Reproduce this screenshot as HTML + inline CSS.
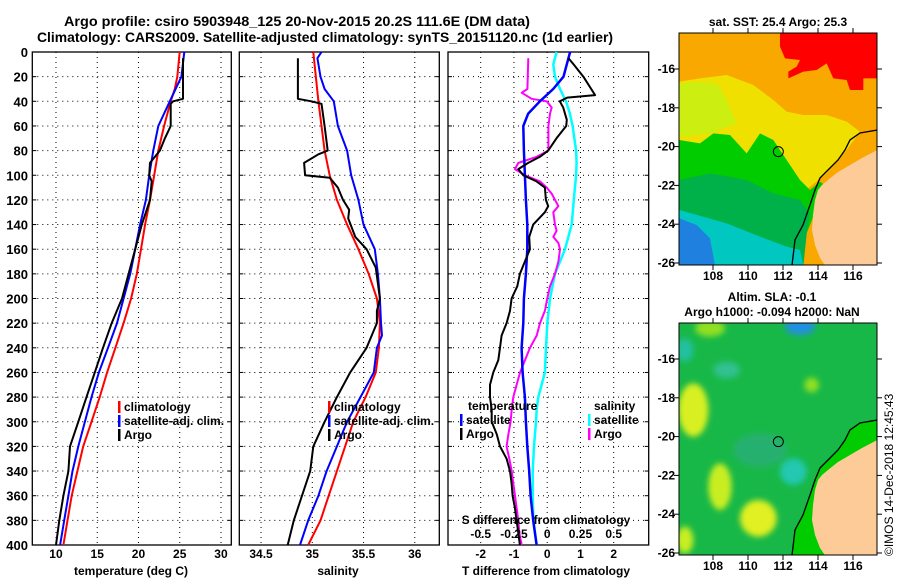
<!DOCTYPE html>
<html><head><meta charset="utf-8">
<style>
html,body{margin:0;padding:0;background:#fff;}
svg{display:block;font-family:"Liberation Sans",Arial,sans-serif;font-weight:bold;}
</style></head>
<body>
<svg id="fig" width="900" height="580" viewBox="0 0 900 580" xmlns="http://www.w3.org/2000/svg">
<defs>
<filter id="blur8" x="-50%" y="-50%" width="200%" height="200%"><feGaussianBlur stdDeviation="9"/></filter>
<clipPath id="clipTop"><rect x="679" y="33" width="198" height="232"/></clipPath>
<clipPath id="clipBot"><rect x="679" y="323" width="198" height="232"/></clipPath>
</defs>
<text x="64" y="26" font-size="14" textLength="466" lengthAdjust="spacingAndGlyphs">Argo profile: csiro 5903948_125 20-Nov-2015 20.2S 111.6E (DM data)</text>
<text x="37" y="42" font-size="14" textLength="576" lengthAdjust="spacingAndGlyphs">Climatology: CARS2009. Satellite-adjusted climatology: synTS_20151120.nc (1d earlier)</text>

<!-- top map -->
<g clip-path="url(#clipTop)">
 <g transform="translate(660,0) scale(0.33333)">
  <rect x="58" y="100" width="594" height="696" fill="#f9a800"/>
  <polygon fill="#ff0000" points="360,100 652,100 652,235 610,235 610,270 570,270 560,240 520,235 500,190 470,210 430,215 385,235 385,215 410,200 420,180 375,175 360,140"/>
  <polygon fill="#f0e000" points="58,245 120,235 200,225 280,255 340,300 380,335 430,345 500,345 560,365 600,395 560,450 500,520 400,600 58,600"/>
  <polygon fill="#ccee10" points="58,250 110,245 170,250 200,300 230,370 150,400 58,410"/>
  <polygon fill="#00cc00" points="58,420 120,430 160,400 210,405 260,460 300,400 340,420 380,480 420,540 450,570 480,545 500,560 475,600 460,650 440,700 430,796 58,796"/>
  <polygon fill="#00b048" points="58,540 150,520 260,540 340,580 420,600 450,640 440,700 430,796 58,796"/>
  <polygon fill="#00c8c0" points="58,630 200,670 300,710 380,740 420,750 430,796 58,796"/>
  <polygon fill="#2080e0" points="58,655 110,675 150,715 165,796 58,796"/>
  <polygon fill="#fccb98" points="652,450 606,474 570,495 534,516 504,540 486,555 474,570 465,600 459,645 456,690 465,735 480,774 495,796 652,796"/>
  <polyline fill="none" stroke="#000" stroke-width="4" points="652,390 600,399 570,420 555,450 534,480 510,504 480,534 465,570 450,615 429,675 405,720 396,796"/>
  <circle cx="355" cy="455" r="15" fill="none" stroke="#000" stroke-width="3"/>
 </g>
</g>
<rect x="679" y="33" width="198" height="232" fill="none" stroke="#000"/>
<text x="778" y="26" font-size="12" text-anchor="middle">sat. SST: 25.4 Argo: 25.3</text>

<!-- bottom map -->
<g clip-path="url(#clipBot)">
 <rect x="679" y="323" width="198" height="232" fill="#18b848"/>
 <g transform="translate(660,290) scale(0.33333)">
  <g filter="url(#blur8)">
   <ellipse cx="100" cy="360" rx="45" ry="80" fill="#d8f020"/>
   <ellipse cx="180" cy="590" rx="35" ry="70" fill="#c8ee20"/>
   <ellipse cx="295" cy="685" rx="55" ry="55" fill="#e0f020"/>
   <ellipse cx="75" cy="750" rx="25" ry="40" fill="#c8ee20"/>
   <ellipse cx="150" cy="115" rx="45" ry="25" fill="#90e020"/>
   <ellipse cx="455" cy="285" rx="22" ry="22" fill="#90e020"/>
   <ellipse cx="75" cy="180" rx="25" ry="35" fill="#20c0a0"/>
   <ellipse cx="200" cy="240" rx="40" ry="25" fill="#30c090"/>
   <ellipse cx="400" cy="545" rx="40" ry="40" fill="#20c8b0"/>
   <ellipse cx="420" cy="110" rx="45" ry="25" fill="#2090e0"/>
   <ellipse cx="300" cy="480" rx="80" ry="50" fill="#28b070"/>
  </g>
  <polygon fill="#00cc00" points="652,390 600,399 570,420 555,450 534,480 510,504 480,534 465,570 450,615 429,675 405,720 396,796 652,796"/>
  <polygon fill="#fccb98" points="652,450 606,474 570,495 534,516 504,540 486,555 474,570 465,600 459,645 456,690 465,735 480,774 495,796 652,796"/>
  <polyline fill="none" stroke="#000" stroke-width="4" points="652,390 600,399 570,420 555,450 534,480 510,504 480,534 465,570 450,615 429,675 405,720 396,796"/>
  <circle cx="355" cy="455" r="15" fill="none" stroke="#000" stroke-width="3"/>
 </g>
</g>
<rect x="679" y="323" width="198" height="232" fill="none" stroke="#000"/>
<text x="772" y="301" font-size="12" text-anchor="middle">Altim. SLA: -0.1</text>
<text x="772" y="316" font-size="12" text-anchor="middle">Argo h1000: -0.094 h2000: NaN</text>
<text transform="translate(893,556) rotate(-90)" font-size="12" font-weight="normal">©IMOS 14-Dec-2018 12:45:43</text>

<g id="panels"></g>
</svg>
<script>
// ---- data ----
const tClimDepth = [0,20,30,40,60,80,100,120,140,160,180,200,220,240,260,280,300,320,340,360,380,400];
const tClimVal   = [25.0,24.7,24.4,23.9,23.1,22.4,21.9,21.4,20.8,20.3,19.8,19.1,18.2,17.2,16.2,15.3,14.3,13.3,12.6,11.9,11.4,10.9];
const tSatDepth  = [0,20,40,60,80,100,120,140,160,180,200,220,240,260,280,300,320,340,360,380,400];
const tSatVal    = [25.55,25.2,23.8,22.4,21.8,21.3,20.9,20.2,19.6,19.0,18.2,17.4,16.3,15.2,14.3,13.5,12.7,12.0,11.5,11.0,10.5];
const tArgoDepth = [5,38,40,42,60,70,80,90,100,105,120,140,160,180,200,220,240,260,280,300,320,340,360,380,400];
const tArgoVal   = [25.4,25.4,24.2,23.9,23.9,23.2,22.6,21.4,21.3,21.6,21.4,20.4,19.6,18.8,18.0,16.75,15.7,14.7,13.7,12.7,11.7,11.5,10.9,10.4,10.0];

const sClimDepth = [0,40,80,100,120,140,160,180,200,220,240,260,280,300,320,340,360,380,400];
const sClimVal   = [35.01,35.06,35.12,35.17,35.24,35.34,35.45,35.55,35.63,35.66,35.65,35.62,35.52,35.40,35.32,35.24,35.16,35.08,34.96];
const sSatDepth  = [0,5,20,30,40,60,80,100,120,140,160,180,200,220,230,240,260,280,300,320,340,360,380,400];
const sSatVal    = [35.09,35.05,35.08,35.12,35.21,35.25,35.34,35.38,35.45,35.50,35.61,35.64,35.66,35.67,35.68,35.63,35.60,35.47,35.34,35.24,35.14,35.06,34.96,34.88];
const sArgoDepth = [5,38,40,42,60,80,83,90,100,102,110,120,128,135,150,160,175,200,210,220,240,260,280,300,320,340,360,380,400];
const sArgoVal   = [34.86,34.86,34.99,35.09,35.12,35.15,35.06,34.92,34.93,35.17,35.25,35.30,35.36,35.35,35.42,35.53,35.62,35.66,35.63,35.63,35.53,35.37,35.24,35.12,35.01,34.98,34.90,34.82,34.76];

const dTSatDepth = [0,10,20,30,40,50,60,80,100,120,140,160,180,200,220,240,260,280,300,320,340,360,380,400];
const dTSatVal   = [0.69,0.59,0.49,0.18,-0.22,-0.57,-0.72,-0.70,-0.67,-0.64,-0.60,-0.60,-0.64,-0.70,-0.72,-0.77,-0.74,-0.67,-0.64,-0.60,-0.54,-0.50,-0.42,-0.32];
const dTArgoDepth = [5,10,20,35,37,40,45,55,60,70,80,85,90,95,100,105,110,120,125,130,140,150,160,170,180,190,200,210,220,230,240,250,260,270,280,290,300,310,320,330,340,350,360,370,380,390,400];
const dTArgoVal   = [0.64,0.79,1.09,1.44,0.6,0.38,0.48,0.59,0.57,0.28,0.03,-0.22,-0.57,-0.87,-0.72,-0.32,-0.07,-0.04,0.03,-0.07,-0.42,-0.54,-0.52,-0.67,-0.82,-0.90,-1.07,-1.12,-1.22,-1.37,-1.42,-1.47,-1.62,-1.72,-1.72,-1.67,-1.67,-1.52,-1.42,-1.22,-1.12,-1.07,-1.04,-0.97,-0.92,-0.87,-0.82];
const dSArgoDepth = [5,30,33,38,40,45,50,60,70,80,85,90,95,100,105,110,115,120,125,130,140,145,150,155,160,170,180,190,200,210,220,230,240,250,260,270,280,290,300,310,320,330,340,350,360,370,380,390,400];
const dSArgoVal   = [-0.142,-0.149,-0.192,-0.117,-0.004,0.034,0.021,0.009,0.009,0.009,-0.079,-0.217,-0.242,-0.167,-0.054,-0.004,0.034,0.059,0.084,0.046,0.059,0.071,0.046,0.084,0.096,0.084,0.059,0.021,0.001,-0.017,-0.054,-0.079,-0.129,-0.167,-0.204,-0.23,-0.255,-0.267,-0.275,-0.292,-0.305,-0.285,-0.267,-0.255,-0.242,-0.23,-0.217,-0.21,-0.192];
const dSSatDepth = [0,10,20,30,40,50,60,80,90,100,120,140,160,180,200,220,240,260,270,280,290,300,320,340,360,380,400];
const dSSatVal   = [0.071,0.046,0.059,0.096,0.141,0.171,0.191,0.217,0.221,0.217,0.2,0.184,0.134,0.059,0.021,0.001,-0.009,-0.017,-0.042,-0.067,-0.079,-0.084,-0.099,-0.109,-0.109,-0.104,-0.079];

const depthTicks = [0,20,40,60,80,100,120,140,160,180,200,220,240,260,280,300,320,340,360,380,400];
const tTicks = [10,15,20,25,30];
const sTicks = [34.5,35,35.5,36];
const dTTicks = [-2,-1,0,1,2];
const dSTicks = ["-0.5","-0.25","0","0.25","0.5"];
const latTicks = [-16,-18,-20,-22,-24,-26];
const lonTicks = [108,110,112,114,116];

// ---- axes ----
const NS = "http://www.w3.org/2000/svg";
const g = document.getElementById('panels');
const Y0 = 52, Y1 = 545;
const yD = d => Y0 + d * (Y1 - Y0) / 400;
const xT = v => 32.3 + (v - 7.13) * 8.25;
const xS = v => 239.3 + (v - 34.288) * 102.5;
const xDT = v => 547.2 + v * 33.25;
const xDS = v => 547.2 + v * 133;

function mk(tag, attrs, parent){ const e=document.createElementNS(NS,tag); for(const k in attrs) e.setAttribute(k,attrs[k]); (parent||g).appendChild(e); return e; }
function txt(x,y,s,anchor,size){ const e=mk('text',{x:x,y:y,'font-size':size||12,'text-anchor':anchor||'middle'}); e.textContent=s; return e; }

function panel(name, x0, x1, xticks, xf, xlabels){
  const pg = mk('g',{});
  
  
  depthTicks.forEach(d=>{
    const y=yD(d);
    if(d>0&&d<400){ const l=mk('line',{x1:x0,x2:x1,y1:y,y2:y,stroke:'#000','stroke-dasharray':'1,4','stroke-width':1},pg);
        }
    mk('line',{x1:x0,x2:x0+4,y1:y,y2:y,stroke:'#000'},pg);
    mk('line',{x1:x1-4,x2:x1,y1:y,y2:y,stroke:'#000'},pg);
  });
  xticks.forEach((v,i)=>{
    const x=xf(v);
    const l=mk('line',{x1:x,x2:x,y1:Y0,y2:Y1,stroke:'#000','stroke-dasharray':'1,4','stroke-width':1},pg);
     
    const t=txt(x,558,xlabels?xlabels[i]:String(v));
    pg.appendChild(t);
     
  });
  const r=mk('rect',{x:x0,y:Y0,width:x1-x0,height:Y1-Y0,fill:'none',stroke:'#000','stroke-width':1.3},pg);
   
  return pg;
}
function line(depths, vals, xf, color, name, w){
  const pts = depths.map((d,i)=>xf(vals[i]).toFixed(1)+','+yD(d).toFixed(1)).join(' ');
  const p=mk('polyline',{points:pts,fill:'none',stroke:color,'stroke-width':w||2,'stroke-linejoin':'round'});
  
  
}

panel('temperature-panel',32.3,231.3,tTicks,xT);
panel('salinity-panel',239.3,439.3,sTicks,xS);
panel('difference-panel',448,648.7,dTTicks,xDT);

depthTicks.forEach(d=>{ const t=txt(28,yD(d)+5,String(d),'end',13);
    });

line(tClimDepth,tClimVal,xT,'#ff0000','temp-climatology-line');
line(tSatDepth,tSatVal,xT,'#0000ff','temp-satellite-line');
line(tArgoDepth,tArgoVal,xT,'#000000','temp-argo-line');
line(sClimDepth,sClimVal,xS,'#ff0000','sal-climatology-line');
line(sSatDepth,sSatVal,xS,'#0000ff','sal-satellite-line');
line(sArgoDepth,sArgoVal,xS,'#000000','sal-argo-line');
line(dSSatDepth,dSSatVal,xDS,'#00ffff','dS-satellite-line',2.5);
line(dSArgoDepth,dSArgoVal,xDS,'#ff00ff','dS-argo-line');
line(dTSatDepth,dTSatVal,xDT,'#0000ff','dT-satellite-line',2.5);
line(dTArgoDepth,dTArgoVal,xDT,'#000000','dT-argo-line');

// axis titles
let t;
t=txt(131,575,'temperature (deg C)');  
t=txt(338,575,'salinity');  
t=txt(546,575,'T difference from climatology');  
t=txt(546,524,'S difference from climatology');  
dSTicks.forEach(s=>{ const e=txt(xDS(parseFloat(s)),538,s);
    });

// legends
function legend(x,y,color,label,name){
  const r=mk('rect',{x:x,y:y-10,width:2.5,height:12,fill:color});
   
  const e=txt(x+6,y,label,'start',12);
   
}
legend(118,411,'#ff0000','climatology','legend-climatology');
legend(118,425,'#0000ff','satellite-adj. clim.','legend-satellite-adj');
legend(118,439,'#000000','Argo','legend-argo');
legend(328,411,'#ff0000','climatology','legend2-climatology');
legend(328,425,'#0000ff','satellite-adj. clim.','legend2-satellite-adj');
legend(328,439,'#000000','Argo','legend2-argo');
t=txt(468,410,'temperature','start',12);  
legend(460,424,'#0000ff','satellite','legend-dT-satellite');
legend(460,438,'#000000','Argo','legend-dT-argo');
t=txt(594,410,'salinity','start',12);  
legend(588,424,'#00ffff','satellite','legend-dS-satellite');
legend(588,438,'#ff00ff','Argo','legend-dS-argo');

// map ticks/labels
const yLatTop = v => 69 + (-16 - v) * 19.4;
const xLon = v => 713 + (v - 108) * 17.5;
[[0,280],[290,570]].forEach(([off,ly],mi)=>{
  latTicks.forEach(v=>{ const y=yLatTop(v)+off;
    const e=txt(675,y+4,String(v),'end',12);  
    mk('line',{x1:877,x2:882,y1:y,y2:y,stroke:'#000'}); mk('line',{x1:674,x2:679,y1:y,y2:y,stroke:'#000'});
  });
  lonTicks.forEach(v=>{ const x=xLon(v);
    const e=txt(x,ly,String(v),'middle',12);  
    mk('line',{x1:x,x2:x,y1:(mi?555:265),y2:(mi?560:270),stroke:'#000'}); mk('line',{x1:x,x2:x,y1:(mi?318:28),y2:(mi?323:33),stroke:'#000'});
  });
});
</script>
</body></html>
